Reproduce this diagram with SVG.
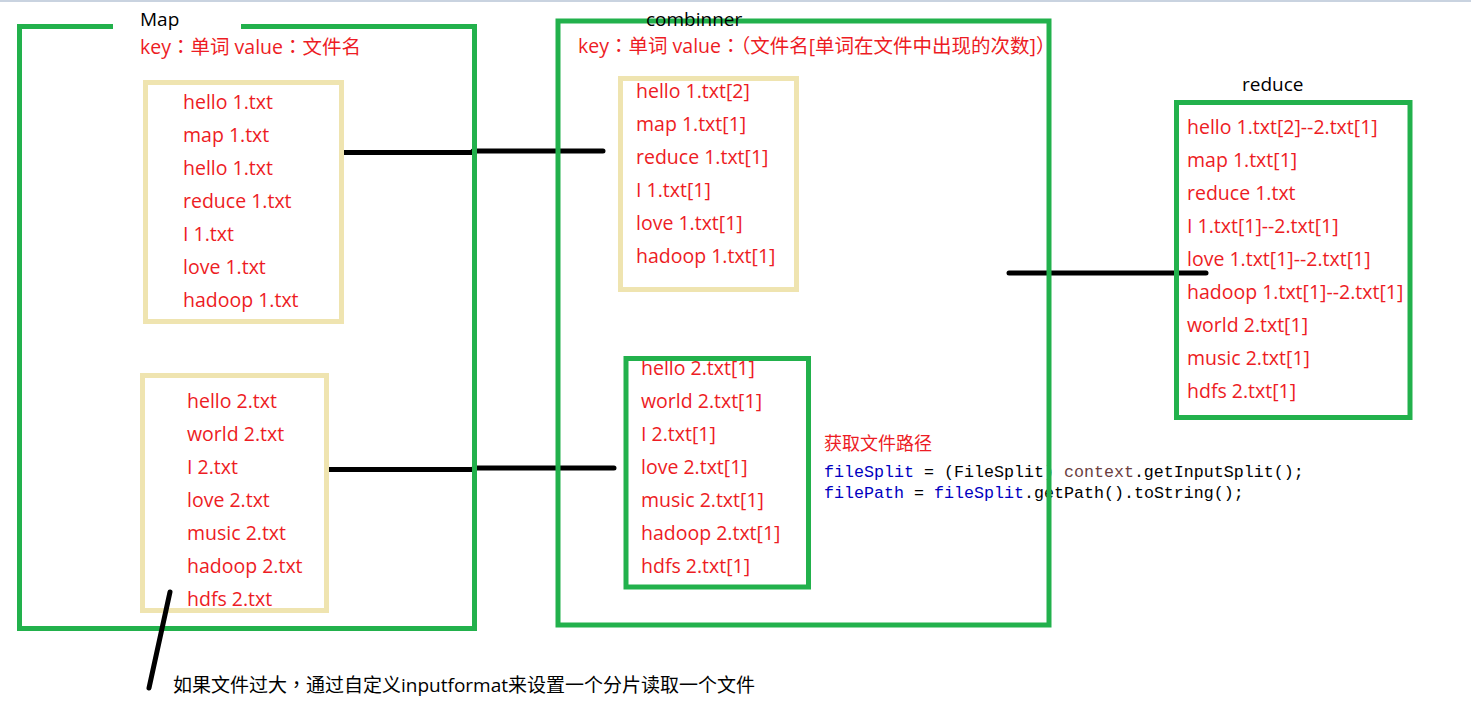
<svg xmlns="http://www.w3.org/2000/svg" width="1471" height="712" viewBox="0 0 1471 712">
<style>
.g{fill:none;stroke:#22B14C;stroke-width:5}
.b{fill:none;stroke:#EFE4B0;stroke-width:5}
.t{font-family:"Open Sans","Noto Sans CJK SC",sans-serif;font-size:19.5px;fill:#ED1C24}
.k{font-family:"Open Sans","Noto Sans CJK SC",sans-serif;font-size:19px;fill:#000}
.p{font-family:"Noto Sans CJK TC",sans-serif}
.c{font-family:"Liberation Mono",monospace;font-size:16.67px;fill:#000;white-space:pre}
.ln{stroke:#000;stroke-width:5;stroke-linecap:round;fill:none}
</style>
<rect width="1471" height="712" fill="#fff"/>
<rect x="0" y="0" width="1471" height="2" fill="#C9D3E0"/>
<g id="connectors">
<path class="ln" d="M342 152.5H473M473 151H603"/>
<path class="ln" d="M329 469.5H474M474 468H614"/>
<path class="ln" d="M1009 273H1206"/>
</g>
<g id="map">
<rect class="g" x="19.5" y="26.5" width="455" height="602"/>
<rect x="113" y="22" width="128" height="8" fill="#fff"/>
<text class="k" x="140" y="26">Map</text>
<text class="t" x="140" y="54">key<tspan class="p">：</tspan>单词 value<tspan class="p">：</tspan>文件名</text>
</g>
<g id="map-split1">
<rect class="b" x="145.5" y="82.5" width="196" height="239"/>
<text class="t" x="183" y="109">hello 1.txt</text>
<text class="t" x="183" y="142">map 1.txt</text>
<text class="t" x="183" y="175">hello 1.txt</text>
<text class="t" x="183" y="208">reduce 1.txt</text>
<text class="t" x="183" y="241">I 1.txt</text>
<text class="t" x="183" y="274">love 1.txt</text>
<text class="t" x="183" y="307">hadoop 1.txt</text>
</g>
<g id="map-split2">
<rect class="b" x="142.5" y="375.5" width="184" height="235"/>
<text class="t" x="187" y="408">hello 2.txt</text>
<text class="t" x="187" y="441">world 2.txt</text>
<text class="t" x="187" y="474">I 2.txt</text>
<text class="t" x="187" y="507">love 2.txt</text>
<text class="t" x="187" y="540">music 2.txt</text>
<text class="t" x="187" y="573">hadoop 2.txt</text>
<text class="t" x="187" y="606">hdfs 2.txt</text>
</g>
<g id="code-note">
<text class="t" x="824" y="450" style="font-size:18px">获取文件路径</text>
<text class="c" x="824" y="477"><tspan fill="#0000C0">fileSplit</tspan> = (FileSplit) <tspan fill="#6A3E3E">context</tspan>.getInputSplit();</text>
<text class="c" x="824" y="498"><tspan fill="#0000C0">filePath</tspan> = <tspan fill="#0000C0">fileSplit</tspan>.getPath().toString();</text>
</g>
<g id="combiner">
<rect class="g" x="558" y="21" width="491" height="604"/>
<text class="k" x="646" y="26">combinner</text>
<text class="t" x="578" y="53">key<tspan class="p">：</tspan>单词 value<tspan class="p">：（</tspan>文件名[单词在文件中出现的次数]<tspan class="p">）</tspan></text>
</g>
<g id="combiner-split1">
<rect class="b" x="620.5" y="78.5" width="176" height="211"/>
<text class="t" x="636" y="98">hello 1.txt[2]</text>
<text class="t" x="636" y="131">map 1.txt[1]</text>
<text class="t" x="636" y="164">reduce 1.txt[1]</text>
<text class="t" x="636" y="197">I 1.txt[1]</text>
<text class="t" x="636" y="230">love 1.txt[1]</text>
<text class="t" x="636" y="263">hadoop 1.txt[1]</text>
</g>
<g id="combiner-split2">
<text class="t" x="641" y="375">hello 2.txt[1]</text>
<text class="t" x="641" y="408">world 2.txt[1]</text>
<text class="t" x="641" y="441">I 2.txt[1]</text>
<text class="t" x="641" y="474">love 2.txt[1]</text>
<text class="t" x="641" y="507">music 2.txt[1]</text>
<text class="t" x="641" y="540">hadoop 2.txt[1]</text>
<text class="t" x="641" y="573">hdfs 2.txt[1]</text>
<rect class="g" x="626" y="358.5" width="182.5" height="228.5"/>
</g>
<g id="reduce">
<text class="k" x="1242" y="91">reduce</text>
<rect class="g" x="1176.5" y="102.5" width="233.5" height="315"/>
<text class="t" x="1187" y="134">hello 1.txt[2]--2.txt[1]</text>
<text class="t" x="1187" y="167">map 1.txt[1]</text>
<text class="t" x="1187" y="200">reduce 1.txt</text>
<text class="t" x="1187" y="233">I 1.txt[1]--2.txt[1]</text>
<text class="t" x="1187" y="266">love 1.txt[1]--2.txt[1]</text>
<text class="t" x="1187" y="299">hadoop 1.txt[1]--2.txt[1]</text>
<text class="t" x="1187" y="332">world 2.txt[1]</text>
<text class="t" x="1187" y="365">music 2.txt[1]</text>
<text class="t" x="1187" y="398">hdfs 2.txt[1]</text>
</g>
<g id="annotation">
<path class="ln" d="M170 592L149 688"/>
<text class="k" x="173" y="692">如果文件过大<tspan class="p">，</tspan>通过自定义inputformat来设置一个分片读取一个文件</text>
</g>
</svg>
